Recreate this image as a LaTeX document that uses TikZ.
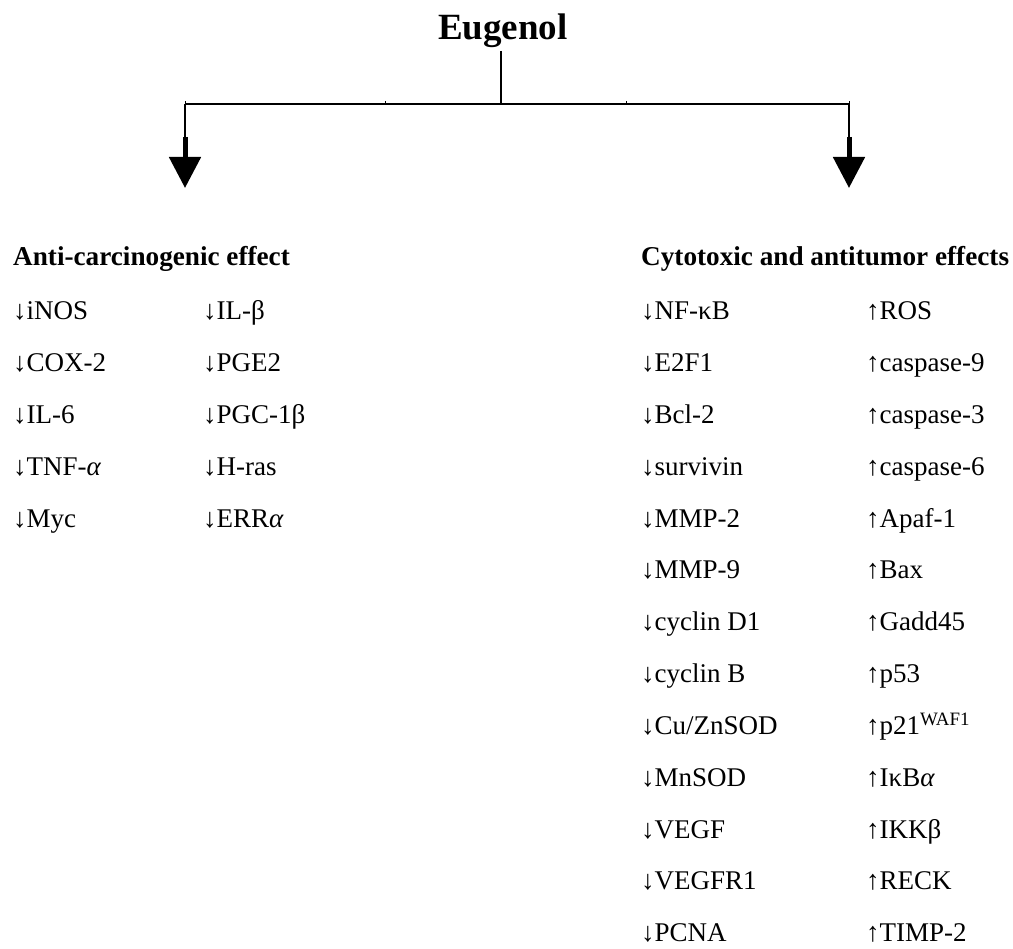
\documentclass[tikz,border=0pt]{standalone}
\usepackage{fontspec}
\setmainfont{Liberation Serif}
\usetikzlibrary{arrows.meta}
\begin{document}
\begin{tikzpicture}[x=1pt,y=-1pt,
  every node/.style={inner sep=0pt},
  titletext/.style={font=\fontsize{37}{40}\selectfont\bfseries, anchor=base},
  headtext/.style={font=\fontsize{27.2}{30}\selectfont\bfseries, anchor=base west},
  itemtext/.style={font=\fontsize{27}{30}\selectfont, anchor=base west},
  conn/.style={line width=1.2pt},
  bigarrow/.style={line width=5pt, -{Triangle[width=31pt,length=31pt]}}]
\useasboundingbox (0,0) rectangle (1013,949);
% title and connectors
\node[titletext] (title) at (503,40) {Eugenol};
\coordinate (stemtop) at (501,51);
\coordinate (junction) at (501,104);
\coordinate (jL) at (185,104);
\coordinate (jR) at (849,104);
\coordinate (sL) at (185,137);
\coordinate (sR) at (849,137);
\coordinate (tL) at (185,188);
\coordinate (tR) at (849,188);
\coordinate (k1) at (385,104);
\coordinate (k2) at (626,104);
\draw[conn] (stemtop) -- (junction);
\draw[conn] (jL) -- (jR);
\draw[line width=0.8pt] (k1) -- ++(0,-2.5);
\draw[line width=0.8pt] (k2) -- ++(0,-2.5);
\draw[line width=0.8pt] (jL) -- ++(0,-2.5);
\draw[line width=0.8pt] (jR) -- ++(0,-2.5);
\draw[conn] (jL) -- (sL);
\draw[conn] (jR) -- (sR);
\draw[bigarrow] (sL) -- (tL);
\draw[bigarrow] (sR) -- (tR);
% headers
\node[headtext] (hA) at (13,266) {Anti-carcinogenic effect};
\node[headtext] (hC) at (641,266) {Cytotoxic and antitumor effects};
% left columns
\foreach \t [count=\i] in {↓iNOS, ↓COX-2, ↓IL-6, ↓TNF-\textit{α}, ↓Myc}
  \node[itemtext] (LA\i) at (13,{320+51.8*(\i-1)}) {\t};
\foreach \t [count=\i] in {↓IL-β, ↓PGE2, ↓PGC-1β, ↓H-ras, ↓ERR\textit{α}}
  \node[itemtext] (LB\i) at (203,{320+51.8*(\i-1)}) {\t};
% right columns
\foreach \t [count=\i] in {↓NF-κB, ↓E2F1, ↓Bcl-2, ↓survivin, ↓MMP-2, ↓MMP-9, ↓cyclin D1, ↓cyclin B, ↓Cu/ZnSOD, ↓MnSOD, ↓VEGF, ↓VEGFR1, ↓PCNA}
  \node[itemtext] (RA\i) at (641,{320+51.8*(\i-1)}) {\t};
\foreach \t [count=\i] in {↑ROS, ↑caspase-9, ↑caspase-3, ↑caspase-6, ↑Apaf-1, ↑Bax, ↑Gadd45, ↑p53, ↑p21\textsuperscript{WAF1}, ↑Iκ{B}\textit{α}, ↑IKKβ, ↑RECK, ↑TIMP-2}
  \node[itemtext] (RB\i) at (866,{320+51.8*(\i-1)}) {\t};
\end{tikzpicture}
\end{document}
